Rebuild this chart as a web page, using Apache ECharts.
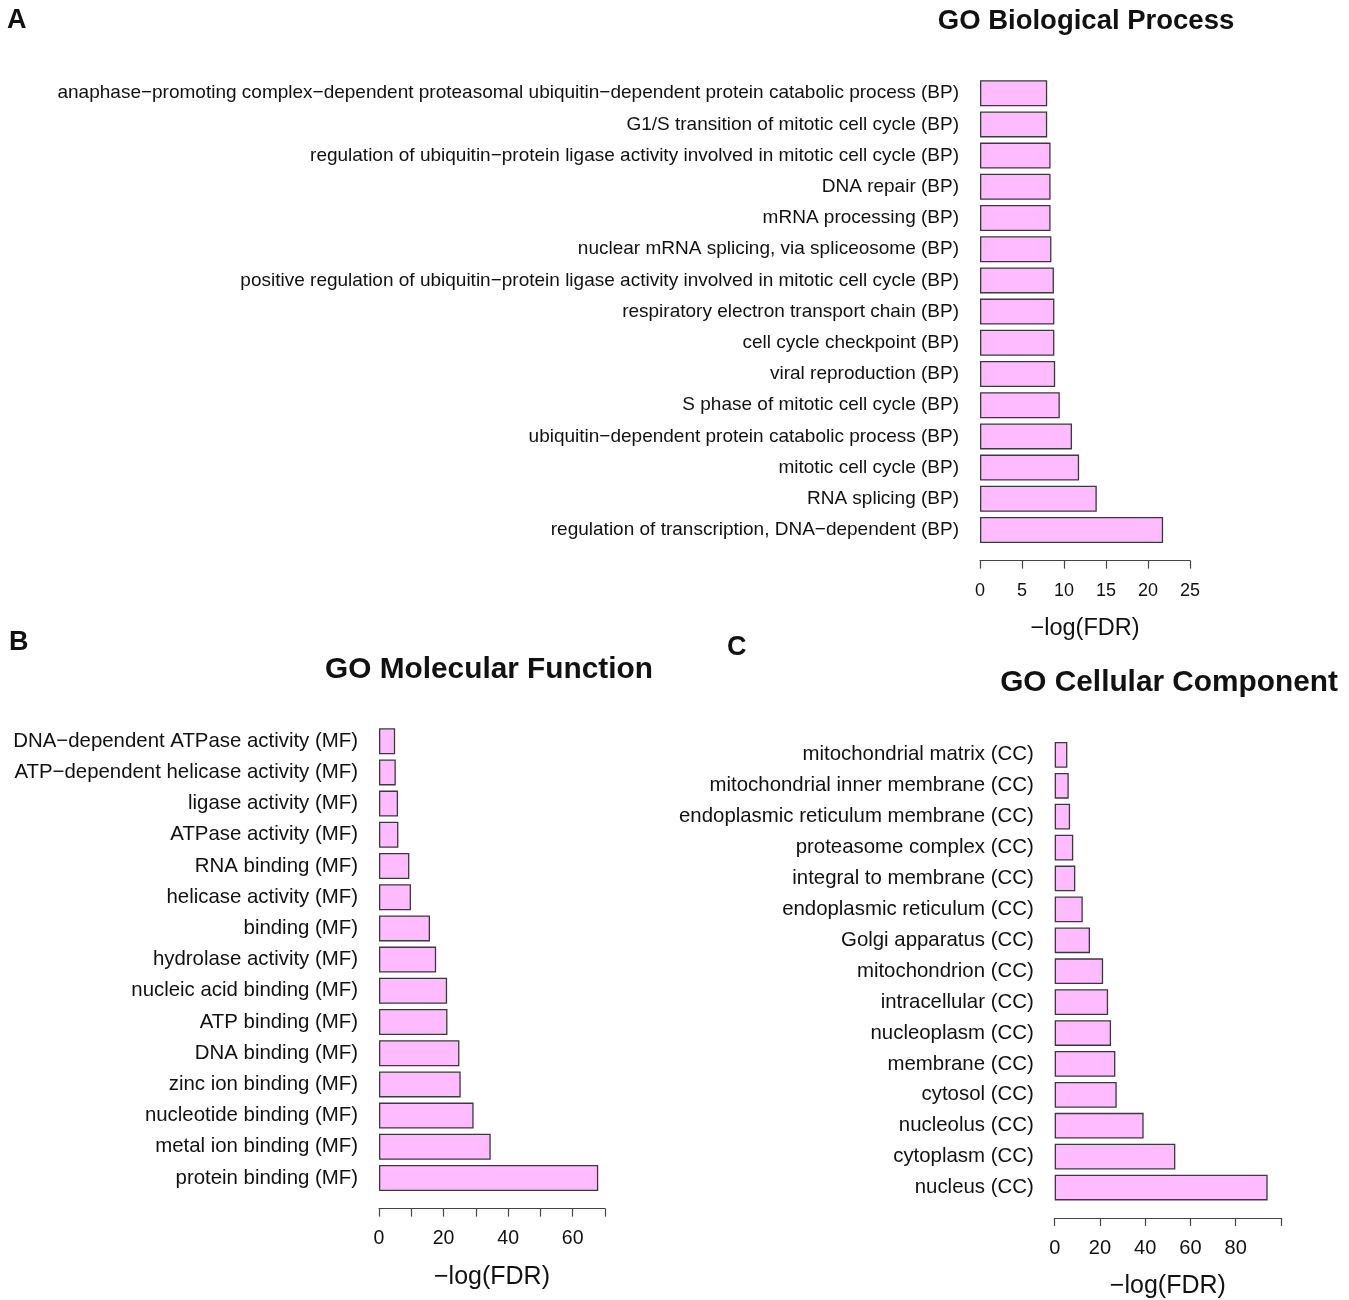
<!DOCTYPE html>
<html>
<head>
<meta charset="utf-8">
<script src="https://cdn.jsdelivr.net/npm/echarts@6/dist/echarts.min.js"></script>
<style>
  html, body { margin: 0; padding: 0; background: #fff; }
  #main { width: 1349px; height: 1300px; }
</style>
</head>
<body>
<div id="main"></div>
<script>
// GO Biological Process (top to bottom)
const bpTerms = [
  'anaphase−promoting complex−dependent proteasomal ubiquitin−dependent protein catabolic process (BP)',
  'G1/S transition of mitotic cell cycle (BP)',
  'regulation of ubiquitin−protein ligase activity involved in mitotic cell cycle (BP)',
  'DNA repair (BP)',
  'mRNA processing (BP)',
  'nuclear mRNA splicing, via spliceosome (BP)',
  'positive regulation of ubiquitin−protein ligase activity involved in mitotic cell cycle (BP)',
  'respiratory electron transport chain (BP)',
  'cell cycle checkpoint (BP)',
  'viral reproduction (BP)',
  'S phase of mitotic cell cycle (BP)',
  'ubiquitin−dependent protein catabolic process (BP)',
  'mitotic cell cycle (BP)',
  'RNA splicing (BP)',
  'regulation of transcription, DNA−dependent (BP)'
];
const bpValues = [8.0, 8.0, 8.4, 8.4, 8.4, 8.5, 8.8, 8.85, 8.85, 8.95, 9.5, 10.95, 11.8, 13.9, 21.8];

// GO Molecular Function
const mfTerms = [
  'DNA−dependent ATPase activity (MF)',
  'ATP−dependent helicase activity (MF)',
  'ligase activity (MF)',
  'ATPase activity (MF)',
  'RNA binding (MF)',
  'helicase activity (MF)',
  'binding (MF)',
  'hydrolase activity (MF)',
  'nucleic acid binding (MF)',
  'ATP binding (MF)',
  'DNA binding (MF)',
  'zinc ion binding (MF)',
  'nucleotide binding (MF)',
  'metal ion binding (MF)',
  'protein binding (MF)'
];
const mfValues = [5.0, 5.2, 5.9, 6.0, 9.4, 9.9, 15.8, 17.7, 21.1, 21.2, 24.9, 25.3, 29.3, 34.6, 67.9];

// GO Cellular Component
const ccTerms = [
  'mitochondrial matrix (CC)',
  'mitochondrial inner membrane (CC)',
  'endoplasmic reticulum membrane (CC)',
  'proteasome complex (CC)',
  'integral to membrane (CC)',
  'endoplasmic reticulum (CC)',
  'Golgi apparatus (CC)',
  'mitochondrion (CC)',
  'intracellular (CC)',
  'nucleoplasm (CC)',
  'membrane (CC)',
  'cytosol (CC)',
  'nucleolus (CC)',
  'cytoplasm (CC)',
  'nucleus (CC)'
];
const ccValues = [5.6, 6.2, 6.8, 8.2, 9.1, 12.4, 15.6, 21.4, 23.6, 24.9, 26.8, 27.4, 39.3, 53.3, 94.1];

const panelTitles = ['GO Biological Process', 'GO Molecular Function', 'GO Cellular Component'];
const axisName = '−log(FDR)';

const FONT = '"Liberation Sans", Arial, sans-serif';
const barFill = '#FFBBFF';
const barEdge = '#3a3a3a';
const axisColor = '#444';

const chart = echarts.init(document.getElementById('main'), null, { renderer: 'canvas' });

// panel layout
const grids = [
  { left: 980, top: 77.6, width: 210, height: 468 },
  { left: 379, top: 725.6, width: 226, height: 468 },
  { left: 1054.7, top: 739.4, width: 226.3, height: 468 }
];
const xMax = [25, 70, 100];
const xStep = [5, 10, 20];
const labelStep = [5, 20, 20];
const labelMax = [25, 60, 80];
const catFont = [19, 20.4, 20.4];
const tickFont = [18, 19.5, 20];
const nameFont = [23.5, 25, 25];
const tickMargin = [21, 20, 20];

function xAxisFor(i) {
  return {
    type: 'value', gridIndex: i, min: 0, max: xMax[i], interval: xStep[i],
    position: 'bottom', offset: 15,
    splitLine: { show: false },
    axisLine: { show: true, lineStyle: { color: axisColor, width: 1.2 } },
    axisTick: { show: true, inside: false, length: 8, lineStyle: { color: axisColor, width: 1.2 } },
    axisLabel: {
      color: '#111', fontSize: tickFont[i], fontFamily: FONT, margin: tickMargin[i],
      formatter: v => (v % labelStep[i] === 0 && v <= labelMax[i]) ? String(v) : ''
    },
    name: axisName, nameLocation: 'middle', nameGap: 56,
    nameTextStyle: { color: '#111', fontSize: nameFont[i], fontFamily: FONT }
  };
}
function yAxisFor(i, terms) {
  return {
    type: 'category', gridIndex: i, data: terms, inverse: true,
    axisLine: { show: false }, axisTick: { show: false }, splitLine: { show: false },
    axisLabel: { color: '#111', fontSize: catFont[i], fontFamily: FONT, margin: 21, interval: 0 }
  };
}
function barSeries(i, values) {
  return {
    type: 'bar', xAxisIndex: i, yAxisIndex: i, data: values,
    barCategoryGap: '16.7%', silent: true,
    itemStyle: { color: barFill, borderColor: barEdge, borderWidth: 1.3 }
  };
}

const option = {
  backgroundColor: '#fff',
  animation: false,
  title: [
    { text: panelTitles[0], left: 1081, top: 2, textAlign: 'center',
      textStyle: { fontSize: 27.5, fontWeight: 'bold', color: '#111', fontFamily: FONT } },
    { text: panelTitles[1], left: 484, top: 650, textAlign: 'center',
      textStyle: { fontSize: 29.8, fontWeight: 'bold', color: '#111', fontFamily: FONT } },
    { text: panelTitles[2], left: 1164, top: 663, textAlign: 'center',
      textStyle: { fontSize: 29.8, fontWeight: 'bold', color: '#111', fontFamily: FONT } }
  ],
  graphic: [
    { type: 'text', left: 7, top: 7, style: { text: 'A', font: 'bold 27px ' + FONT, fill: '#111' } },
    { type: 'text', left: 9, top: 629, style: { text: 'B', font: 'bold 27px ' + FONT, fill: '#111' } },
    { type: 'text', left: 727, top: 634, style: { text: 'C', font: 'bold 27px ' + FONT, fill: '#111' } }
  ],
  grid: grids.map(g => Object.assign({ containLabel: false }, g)),
  xAxis: [xAxisFor(0), xAxisFor(1), xAxisFor(2)],
  yAxis: [yAxisFor(0, bpTerms), yAxisFor(1, mfTerms), yAxisFor(2, ccTerms)],
  series: [barSeries(0, bpValues), barSeries(1, mfValues), barSeries(2, ccValues)]
};

chart.setOption(option);
</script>
</body>
</html>
